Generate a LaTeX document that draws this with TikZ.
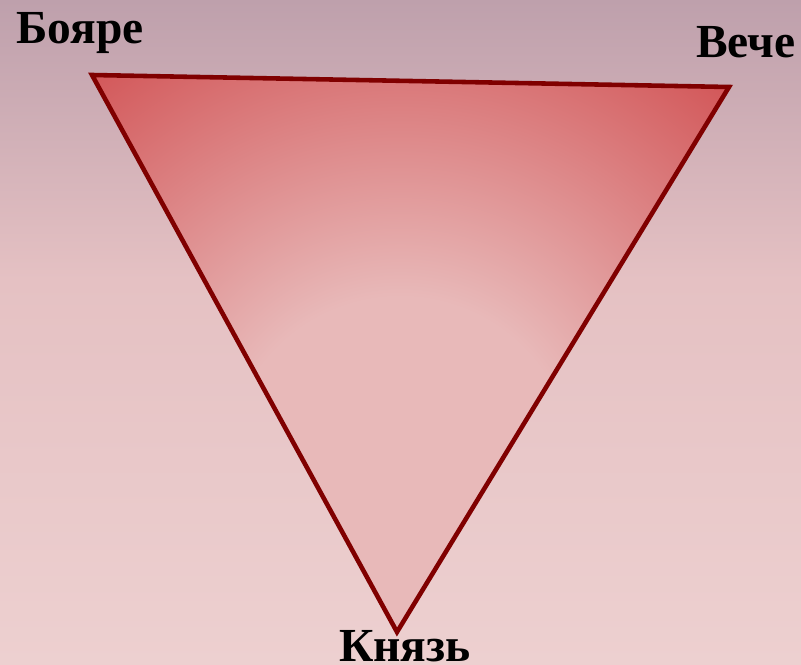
\documentclass[tikz,border=0pt]{standalone}
\usepackage{fontspec}
\setmainfont{Liberation Serif}
\usepackage{xcolor}
\usepackage{tikz}
\usetikzlibrary{positioning}
\definecolor{bgtop}{RGB}{190,160,172}
\definecolor{bgmid}{RGB}{229,193,195}
\definecolor{bgbot}{RGB}{237,208,208}
\definecolor{edge}{RGB}{128,0,0}
\definecolor{tripale}{RGB}{232,185,185}
\definecolor{trired}{RGB}{208,76,78}
\pgfdeclareradialshading{trishade}{\pgfpoint{0bp}{0bp}}{color(0bp)=(tripale); color(8bp)=(tripale); color(25bp)=(trired); color(50bp)=(trired)}

\begin{document}
\begin{tikzpicture}[x=0.02cm, y=-0.02cm,
  lbl/.style={font=\fontsize{27}{30}\selectfont\bfseries, text=black, anchor=base, inner sep=0pt},
  side/.style={draw=edge, line width=2.6pt}]
  \useasboundingbox (0,0) rectangle (801,665);
  \shade[top color=bgtop, bottom color=bgmid] (0,0) rectangle (801,280);
  \shade[top color=bgmid, bottom color=bgbot] (0,280) rectangle (801,665);
  % vertices
  \coordinate (b) at (92,75);
  \coordinate (v) at (729,87);
  \coordinate (k) at (397,632);
  \begin{scope}
    \clip (b) -- (v) -- (k) -- cycle;
    \shade[shading=trishade] (400,470) circle (540);
  \end{scope}
  \draw[side] (b) -- (v) -- (k) -- cycle;
  \node[lbl] (boyare) at (80,44) {Бояре};
  \node[lbl] (veche) at (746,58) {Вече};
  \node[lbl] (knyaz) at (405,661) {Князь};
\end{tikzpicture}
\end{document}
